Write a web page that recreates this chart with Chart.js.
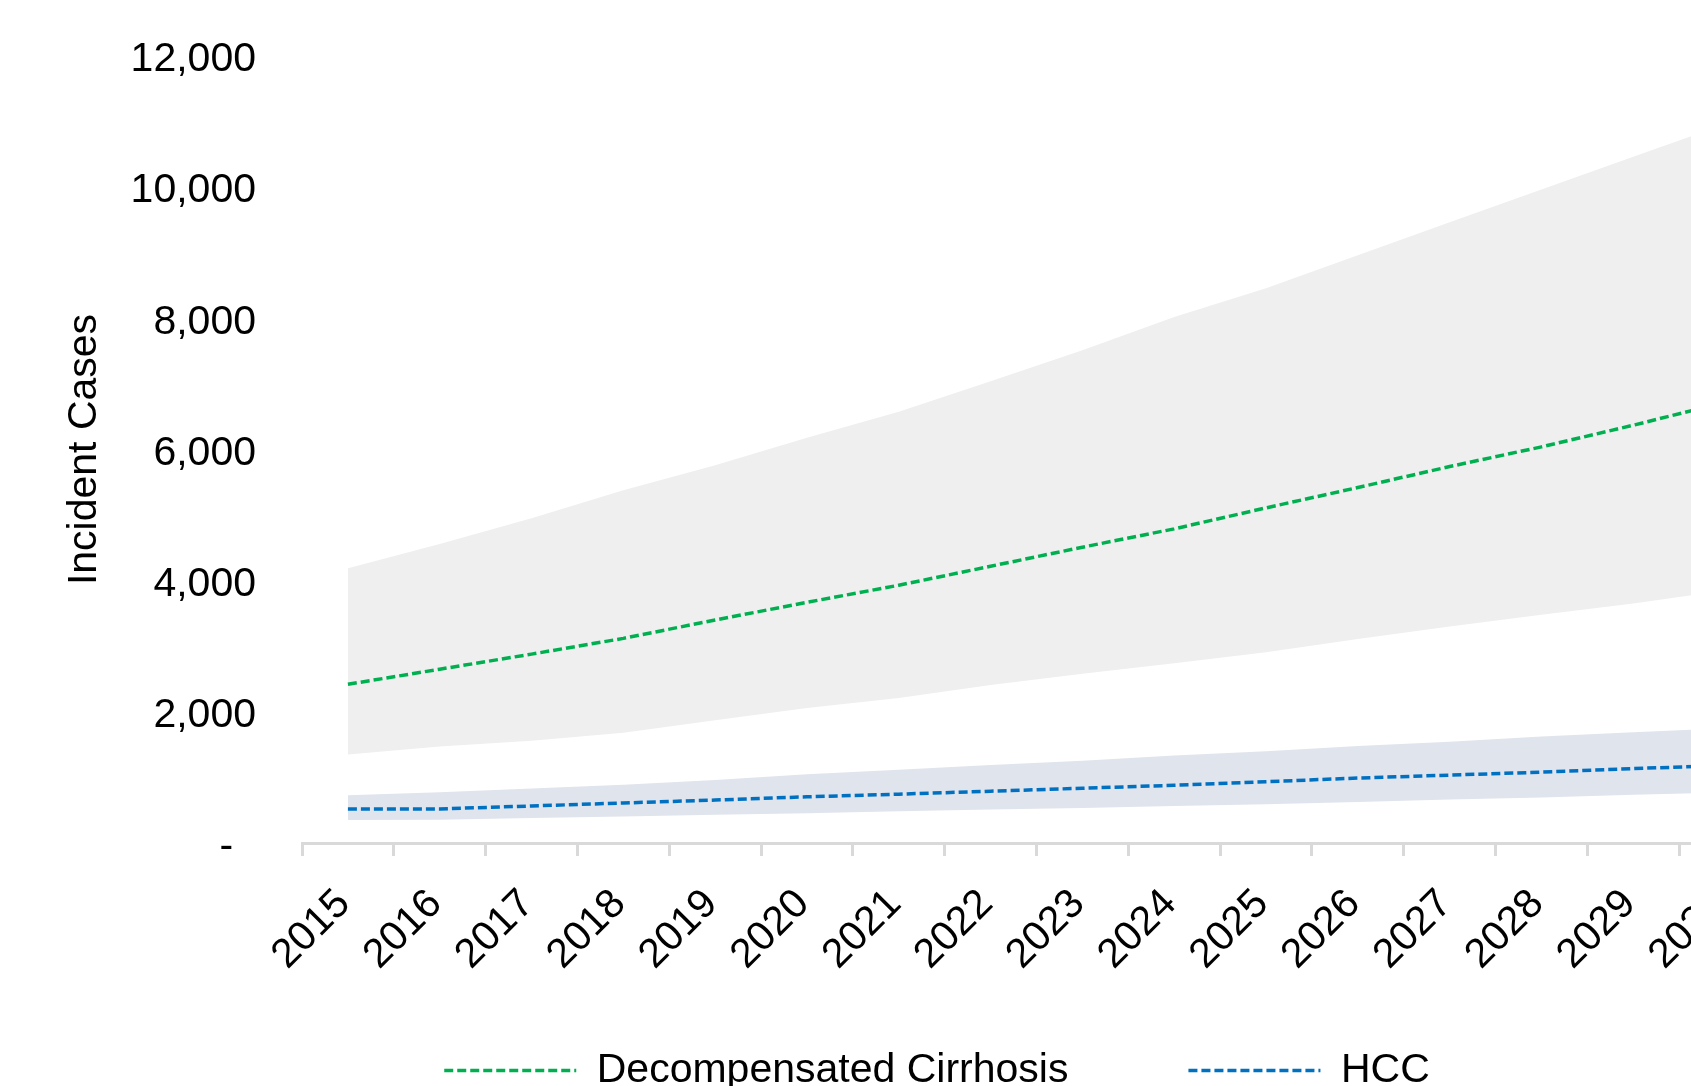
<!DOCTYPE html>
<html>
<head>
<meta charset="utf-8">
<script src="https://cdn.jsdelivr.net/npm/chart.js@4.4.1/dist/chart.umd.min.js"></script>
<style>
  html, body { margin: 0; padding: 0; overflow: hidden; background: #ffffff; }
  #wrap { position: relative; width: 1874px; height: 1101px; }
</style>
</head>
<body>
<div id="wrap"><canvas id="c"></canvas></div>
<script>
// Projection years
const years = ['2015','2016','2017','2018','2019','2020','2021','2022','2023','2024','2025','2026','2027','2028','2029','2030'];

// Decompensated cirrhosis: central projection and uncertainty range
const dcCases = [2420, 2650, 2880, 3120, 3400, 3670, 3930, 4220, 4510, 4790, 5110, 5420, 5740, 6040, 6370, 6720];
const dcLower = [1350, 1470, 1560, 1680, 1870, 2060, 2210, 2410, 2580, 2740, 2910, 3110, 3300, 3480, 3650, 3850];
const dcUpper = [4190, 4560, 4950, 5380, 5760, 6180, 6575, 7040, 7515, 8020, 8460, 8960, 9465, 9965, 10465, 10960];

// HCC: central projection and uncertainty range
const hccCases = [520, 520, 565, 610, 655, 705, 745, 790, 835, 880, 935, 990, 1035, 1080, 1135, 1180];
const hccLower = [350, 355, 380, 405, 430, 455, 485, 510, 535, 565, 590, 625, 665, 695, 735, 770];
const hccUpper = [727, 775, 830, 890, 960, 1050, 1115, 1190, 1255, 1335, 1400, 1480, 1545, 1625, 1690, 1750];

// Y axis ticks
const yTicks = [0, 2000, 4000, 6000, 8000, 10000, 12000];

const GREEN = '#00B050';
const BLUE = '#0070C0';
const DASH = [9, 4];
const LINE_W = 3.5;
const FONT_SIZE = 41;

Chart.defaults.font.family = '"Liberation Sans", Arial, Helvetica, sans-serif';
Chart.defaults.font.size = FONT_SIZE;
Chart.defaults.color = '#000000';

// Shaded range between a lower and an upper bound (drawn underneath the lines)
const band = (data, fill, color) => ({
  data, fill, backgroundColor: color, borderWidth: 0, order: 1,
  pointRadius: 0, pointHoverRadius: 0, tension: 0
});

const dashedLine = (label, data, color) => ({
  label, data, fill: false, order: 0,
  borderColor: color, borderWidth: LINE_W, borderDash: DASH, borderCapStyle: 'butt',
  pointRadius: 0, pointHoverRadius: 0, tension: 0
});

new Chart(document.getElementById('c'), {
  type: 'line',
  data: {
    labels: years,
    datasets: [
      band(dcLower, false, 'rgba(0,0,0,0)'),
      band(dcUpper, '-1', '#EFEFEF'),
      band(hccLower, false, 'rgba(0,0,0,0)'),
      band(hccUpper, '-1', '#E0E4EC'),
      dashedLine('Decompensated Cirrhosis', dcCases, GREEN),
      dashedLine('HCC', hccCases, BLUE)
    ]
  },
  options: {
    responsive: true,
    maintainAspectRatio: false,
    animation: false,
    events: [],
    layout: { padding: { top: 56, left: 0, right: 0, bottom: 0 } },
    plugins: {
      filler: { drawTime: 'beforeDatasetsDraw' },
      tooltip: { enabled: false },
      legend: {
        position: 'bottom',
        labels: {
          usePointStyle: true,
          pointStyleWidth: 132,
          padding: 120,
          color: '#000000',
          font: { size: FONT_SIZE },
          generateLabels: (chart) => [4, 5].map(i => {
            const ds = chart.data.datasets[i];
            return {
              text: ds.label, datasetIndex: i, hidden: false,
              strokeStyle: ds.borderColor, fillStyle: ds.borderColor,
              lineWidth: LINE_W, lineDash: DASH, lineCap: 'butt', pointStyle: 'line'
            };
          })
        }
      }
    },
    scales: {
      x: {
        offset: true,
        grid: {
          display: true, offset: true, drawOnChartArea: false, drawTicks: true,
          tickLength: 13, color: '#D9D9D9', lineWidth: 3
        },
        border: { display: true, color: '#D9D9D9', width: 3 },
        ticks: {
          minRotation: 45, maxRotation: 45,
          padding: 24, labelOffset: -4, color: '#000000', font: { size: FONT_SIZE }
        },
        afterFit: (s) => { s.height = 87; },
        // the year labels hang below the axis box into the legend band; do not clip them
        afterUpdate: (s) => { s._computeLabelArea = () => undefined; }
      },
      y: {
        min: 0, max: 12000,
        afterBuildTicks: (s) => { s.ticks = yTicks.map(v => ({ value: v })); },
        grid: { display: false, drawTicks: false },
        border: { display: false },
        ticks: {
          padding: 46, labelOffset: 4, color: '#000000', font: { size: FONT_SIZE },
          callback: (v) => v === 0 ? '-\u00a0\u00a0' : Number(v).toLocaleString('en-US')
        },
        title: {
          display: true, text: 'Incident Cases', color: '#000000',
          font: { size: FONT_SIZE }, padding: { top: 60, bottom: 0 }
        },
        afterFit: (s) => { s.width = 302; s.paddingTop = 0; s.paddingBottom = 0; }
      },
      rightSpace: {
        type: 'linear', position: 'right', display: true,
        grid: { display: false, drawTicks: false }, border: { display: false },
        ticks: { display: false },
        afterFit: (s) => { s.width = 103; s.paddingTop = 0; s.paddingBottom = 0; }
      }
    }
  }
});
</script>
</body>
</html>
